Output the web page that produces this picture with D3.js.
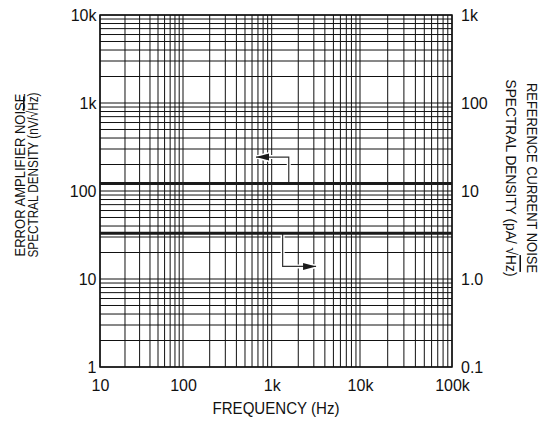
<!DOCTYPE html>
<html>
<head>
<meta charset="utf-8">
<script src="https://cdn.jsdelivr.net/npm/d3@7"></script>
<style>
  body { margin: 0; background: #fff; }
  text { fill: #111; }
</style>
</head>
<body>
<svg id="chart" width="547" height="421"></svg>
<script>
var freqTicks = [10, 100, 1000, 10000, 100000]
var freqLabels = ["10", "100", "1k", "10k", "100k"]
var voltTicks = [1, 10, 100, 1000, 10000]
var voltLabels = ["1", "10", "100", "1k", "10k"]
var currTicks = [0.1, 1, 10, 100, 1000]
var currLabels = ["0.1", "1.0", "10", "100", "1k"]

// both spectra are flat over the whole band
var voltFreq = [10, 100000]
var voltNoise = [122, 122]      // nV/rtHz, left axis
var currFreq = [10, 100000]
var currNoise = [3.3, 3.3]      // pA/rtHz, right axis

// arrows telling which axis each line belongs to
var voltArrowFreq = [1560, 1560, 665]
var voltArrowLevel = [122, 243, 243]
var currArrowFreq = [1330, 1330, 3180]
var currArrowLevel = [3.3, 1.39, 1.39]

var plotTop = 15, plotBottom = 367
// decade lines of the scanned plot are not quite evenly spaced
var decadeX = [100, 183, 271.7, 360, 452]

var svg = d3.select("#chart")

var x = d3.scaleLog().domain(freqTicks).range(decadeX)
var yL = d3.scaleLog().domain([1, 10000]).range([plotBottom, plotTop])
var yR = d3.scaleLog().domain([0.1, 1000]).range([plotBottom, plotTop])

var plotLeft = x(10), plotRight = x(100000)

// grid
var grid = svg.append("g").attr("stroke", "#111").attr("stroke-width", 1)
grid.selectAll(".vx")
    .data(x.ticks())
    .enter()
    .append("line")
    .attr("x1", function(d) { return x(d) })
    .attr("x2", function(d) { return x(d) })
    .attr("y1", plotTop)
    .attr("y2", plotBottom)
grid.selectAll(".hy")
    .data(yL.ticks())
    .enter()
    .append("line")
    .attr("x1", plotLeft)
    .attr("x2", plotRight)
    .attr("y1", function(d) { return yL(d) })
    .attr("y2", function(d) { return yL(d) })

svg.append("rect")
    .attr("x", plotLeft)
    .attr("y", plotTop)
    .attr("width", plotRight - plotLeft)
    .attr("height", plotBottom - plotTop)
    .attr("fill", "none")
    .attr("stroke", "#111")
    .attr("stroke-width", 1.5)

// noise lines
var lineV = d3.line()
    .x(function(d, i) { return x(voltFreq[i]) })
    .y(function(d) { return yL(d) })
var lineC = d3.line()
    .x(function(d, i) { return x(currFreq[i]) })
    .y(function(d) { return yR(d) })

// arrows
var defs = svg.append("defs")
function marker(id, fill, sw) {
    defs.append("marker")
        .attr("id", id)
        .attr("viewBox", "-2 -2 17 11")
        .attr("refX", 13).attr("refY", 3.5)
        .attr("markerWidth", 17).attr("markerHeight", 11)
        .attr("markerUnits", "userSpaceOnUse")
        .attr("orient", "auto")
        .append("path")
        .attr("d", "M0,0L13,3.5L0,7Z")
        .attr("fill", fill)
        .attr("stroke", fill)
        .attr("stroke-width", sw)
}
marker("headHalo", "#fff", 3)
marker("head", "#1a1a1a", 0)

var arrowV = d3.line()
    .x(function(d, i) { return x(voltArrowFreq[i]) })
    .y(function(d) { return yL(d) })
var arrowC = d3.line()
    .x(function(d, i) { return x(currArrowFreq[i]) })
    .y(function(d) { return yR(d) })

var arrows = [arrowV(voltArrowLevel), arrowC(currArrowLevel)]
arrows.forEach(function(d) {
    svg.append("path").attr("d", d)
        .attr("fill", "none").attr("stroke", "#fff").attr("stroke-width", 4)
        .attr("marker-end", "url(#headHalo)")
})
arrows.forEach(function(d) {
    svg.append("path").attr("d", d)
        .attr("fill", "none").attr("stroke", "#333").attr("stroke-width", 1.2)
        .attr("marker-end", "url(#head)")
})

// thick lines on top so the halos do not cut them
svg.append("path").attr("d", lineV(voltNoise))
    .attr("fill", "none").attr("stroke", "#1a1a1a").attr("stroke-width", 3)
svg.append("path").attr("d", lineC(currNoise))
    .attr("fill", "none").attr("stroke", "#1a1a1a").attr("stroke-width", 3)

// axes
var tickFont = "'Liberation Sans', Arial, sans-serif"
function styleAxis(g) {
    g.select(".domain").remove()
    g.selectAll("text")
        .attr("font-family", tickFont)
        .attr("font-size", 16)
        .attr("fill", "#111")
}

svg.append("g")
    .attr("transform", "translate(0," + plotBottom + ")")
    .call(d3.axisBottom(x).tickValues(freqTicks)
        .tickFormat(function(d, i) { return freqLabels[i] })
        .tickSize(0).tickPadding(13))
    .call(styleAxis)

svg.append("g")
    .attr("transform", "translate(" + plotLeft + ",0)")
    .call(d3.axisLeft(yL).tickValues(voltTicks)
        .tickFormat(function(d, i) { return voltLabels[i] })
        .tickSize(0).tickPadding(3.5))
    .call(styleAxis)

svg.append("g")
    .attr("transform", "translate(" + plotRight + ",0)")
    .call(d3.axisRight(yR).tickValues(currTicks)
        .tickFormat(function(d, i) { return currLabels[i] })
        .tickSize(0).tickPadding(9))
    .call(styleAxis)

// titles, squeezed to the condensed face of the original
var titleFont = "'Liberation Sans', Arial, sans-serif"

svg.append("text")
    .attr("x", (plotLeft + plotRight) / 2)
    .attr("y", 414)
    .attr("text-anchor", "middle")
    .attr("font-family", titleFont)
    .attr("font-size", 16)
    .attr("textLength", 127)
    .attr("lengthAdjust", "spacingAndGlyphs")
    .text("FREQUENCY (Hz)")

var lt = svg.append("g")
    .attr("transform", "translate(0,175) rotate(-90)")
    .attr("font-family", titleFont)
    .attr("font-size", 15.5)
    .attr("text-anchor", "middle")
lt.append("text").attr("y", 25)
    .attr("textLength", 163).attr("lengthAdjust", "spacingAndGlyphs")
    .text("ERROR AMPLIFIER NOISE")
var lt2 = lt.append("text").attr("y", 38)
    .attr("textLength", 165).attr("lengthAdjust", "spacingAndGlyphs")
lt2.append("tspan").text("SPECTRAL DENSITY (nV/√")
lt2.append("tspan").attr("text-decoration", "overline").text("Hz")
lt2.append("tspan").text(")")

var rt = svg.append("g")
    .attr("transform", "translate(0,178) rotate(90)")
    .attr("font-family", titleFont)
    .attr("font-size", 15.5)
    .attr("text-anchor", "middle")
rt.append("text").attr("y", -527)
    .attr("textLength", 190).attr("lengthAdjust", "spacingAndGlyphs")
    .text("REFERENCE CURRENT NOISE")
var rt2 = rt.append("text").attr("y", -506)
    .attr("textLength", 197).attr("lengthAdjust", "spacingAndGlyphs")
rt2.append("tspan").text("SPECTRAL DENSITY (pA/ √")
rt2.append("tspan").attr("text-decoration", "overline").text("Hz")
rt2.append("tspan").text(")")
</script>
</body>
</html>
